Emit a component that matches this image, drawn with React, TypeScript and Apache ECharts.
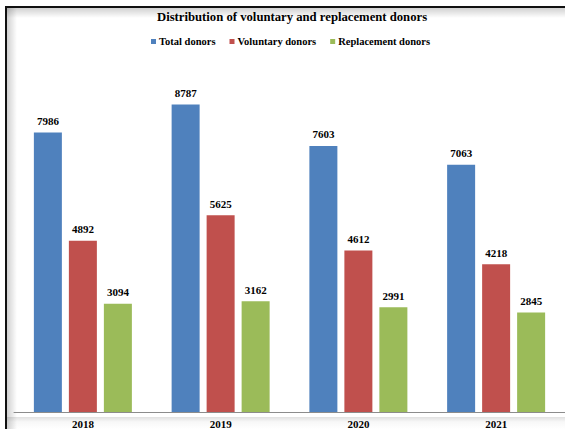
import React, { useEffect, useRef } from "react";
import * as echarts from "echarts";

const years = ["2018", "2019", "2020", "2021"];
const totalDonors = [7986, 8787, 7603, 7063];
const voluntaryDonors = [4892, 5625, 4612, 4218];
const replacementDonors = [3094, 3162, 2991, 2845];

const FONT = "Liberation Serif";

export default function App() {
  const ref = useRef<HTMLDivElement>(null);
  useEffect(() => {
    if (!ref.current) return;
    const chart = echarts.init(ref.current, undefined, { renderer: "svg" });
    const label = {
      show: true,
      position: "top",
      distance: 6,
      fontFamily: FONT,
      fontWeight: "bold",
      fontSize: 11,
      color: "#000",
    };
    chart.setOption({
      animation: false,
      backgroundColor: "#fff",
      textStyle: { fontFamily: FONT },
      title: {
        text: "Distribution of voluntary and replacement donors",
        left: 152,
        top: 5,
        textStyle: { fontFamily: FONT, fontWeight: "bold", fontSize: 12.7, color: "#000" },
      },
      legend: {
        top: 31,
        left: 146,
        itemWidth: 5,
        itemHeight: 5,
        itemGap: 14,
        icon: "rect",
        textStyle: { fontFamily: FONT, fontWeight: "bold", fontSize: 10.5, color: "#000", padding: [0, 0, 0, -2] },
        data: ["Total donors", "Voluntary donors", "Replacement donors"],
      },
      grid: { left: 14, right: 0, top: 62, bottom: 17 },
      xAxis: {
        type: "category",
        data: years,
        axisLine: { lineStyle: { color: "#8c8c8c", width: 1 } },
        axisTick: { show: false },
        axisLabel: { fontFamily: FONT, fontWeight: "bold", fontSize: 11, color: "#000", margin: 6 },
      },
      yAxis: {
        type: "value",
        min: 0,
        max: 10000,
        show: false,
        splitLine: { show: false },
      },
      series: [
        { name: "Total donors", type: "bar", data: totalDonors, barWidth: 28, barGap: "25%", itemStyle: { color: "#4F81BD" }, label },
        { name: "Voluntary donors", type: "bar", data: voluntaryDonors, barWidth: 28, barGap: "25%", itemStyle: { color: "#C0504D" }, label },
        { name: "Replacement donors", type: "bar", data: replacementDonors, barWidth: 28, barGap: "25%", itemStyle: { color: "#9BBB59" }, label },
      ],
      graphic: [
        {
          type: "rect",
          shape: { x: 7, y: 8, width: 10, height: 421 },
          style: {
            fill: new echarts.graphic.LinearGradient(0, 0, 1, 0, [
              { offset: 0, color: "rgba(0,0,0,0.18)" },
              { offset: 1, color: "rgba(0,0,0,0)" },
            ]),
          },
          silent: true,
        },
        {
          type: "rect",
          shape: { x: 7, y: 8, width: 558, height: 10 },
          style: {
            fill: new echarts.graphic.LinearGradient(0, 0, 0, 1, [
              { offset: 0, color: "rgba(0,0,0,0.18)" },
              { offset: 1, color: "rgba(0,0,0,0)" },
            ]),
          },
          silent: true,
        },
        {
          type: "rect",
          shape: { x: 7, y: 417, width: 558, height: 12 },
          style: {
            fill: new echarts.graphic.LinearGradient(0, 0, 0, 1, [
              { offset: 0, color: "rgba(0,0,0,0.12)" },
              { offset: 0.4, color: "rgba(0,0,0,0.03)" },
              { offset: 1, color: "rgba(0,0,0,0)" },
            ]),
          },
          silent: true,
          z: -1,
        },
        {
          type: "line",
          shape: { x1: 6, y1: 6, x2: 6, y2: 429 },
          style: { stroke: "#111", lineWidth: 2 },
          silent: true,
        },
        {
          type: "line",
          shape: { x1: 5, y1: 7, x2: 565, y2: 7 },
          style: { stroke: "#111", lineWidth: 2 },
          silent: true,
        },
      ],
    });
    return () => chart.dispose();
  }, []);
  return (
    <div
      ref={ref}
      style={{ position: "fixed", left: 0, top: 0, width: 565, height: 429 }}
    />
  );
}
